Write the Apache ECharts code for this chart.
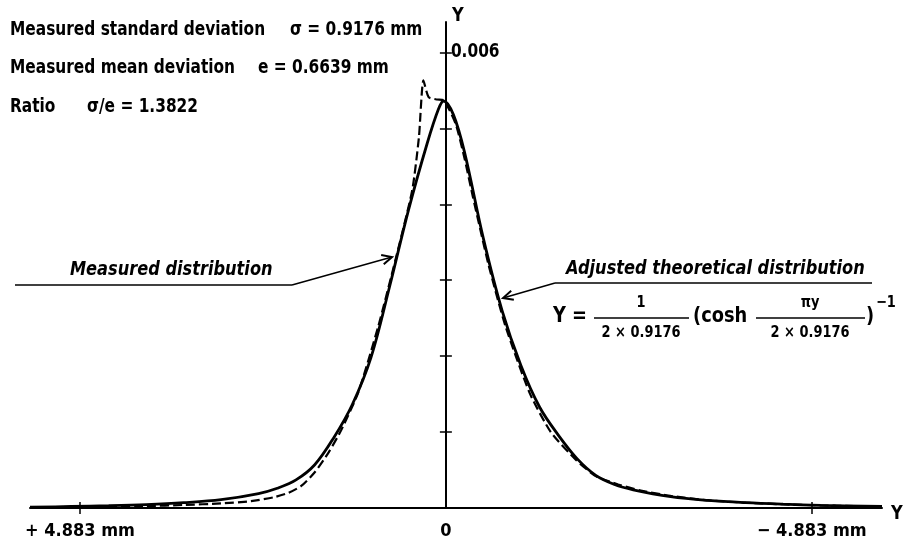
<!DOCTYPE html>
<html>
<head>
<meta charset="utf-8">
<script src="https://cdn.jsdelivr.net/npm/echarts@6/dist/echarts.min.js"></script>
<style>
html, body { margin: 0; padding: 0; background: #fff; }
#main { width: 904px; height: 546px; }
</style>
</head>
<body>
<div id="main"></div>
<script>
'use strict';

// x in mm (left is positive), y in units of 0.001
var theoryX = [5.55, 5.0, 4.5, 4.0, 3.5, 3.0, 2.5, 2.25, 2.0, 1.75, 1.5, 1.25, 1.0, 0.75, 0.5, 0.25, 0.1, 0.03,
    -0.1, -0.25, -0.5, -0.75, -1.0, -1.25, -1.5, -1.75, -2.0, -2.25, -2.5, -3.0, -3.5, -4.0, -4.5, -5.0, -5.82];
var theoryY = [0.01, 0.02, 0.03, 0.045, 0.07, 0.11, 0.19, 0.26, 0.37, 0.57, 0.92, 1.36, 1.98, 2.92, 3.92, 4.80, 5.25, 5.36,
    5.18, 4.68, 3.55, 2.60, 1.88, 1.33, 0.96, 0.65, 0.43, 0.31, 0.24, 0.15, 0.10, 0.07, 0.05, 0.035, 0.02];

var measuredX = [5.55, 5.0, 4.5, 4.0, 3.5, 3.0, 2.6, 2.3, 2.1, 1.93, 1.75, 1.56, 1.40, 1.17, 0.90, 0.67, 0.45, 0.36, 0.30, 0.23, 0.12, 0.03,
    -0.13, -0.25, -0.36, -0.57, -0.80, -1.12, -1.40, -1.74, -2.0, -2.3, -2.6, -3.0, -3.5, -4.0, -4.6, -5.2, -5.82];
var measuredY = [0.005, 0.01, 0.015, 0.025, 0.04, 0.06, 0.09, 0.14, 0.20, 0.29, 0.47, 0.74, 1.02, 1.52, 2.40, 3.28, 4.18, 4.88, 5.63, 5.41, 5.38, 5.37,
    5.06, 4.60, 4.10, 3.20, 2.38, 1.51, 1.00, 0.63, 0.42, 0.31, 0.23, 0.16, 0.10, 0.07, 0.045, 0.03, 0.02];

var xLabelValues = [4.883, 0, -4.883];
var xTickValues = [4.883, -4.883];
var yTickValues = [1, 2, 3, 4, 5, 6];
var yLabelValue = 6;

var FONT = '"Liberation Sans Narrow", "DejaVu Sans Condensed", "Roboto", sans-serif';
var SQUEEZE = 0.9;

function pairs(xs, ys) {
    return xs.map(function (x, i) { return [x, ys[i]]; });
}

function txt(str, x, y, size, opts) {
    opts = opts || {};
    return {
        type: 'text',
        z: 100,
        x: x,
        y: y,
        scaleX: SQUEEZE,
        style: {
            text: str,
            x: 0,
            y: 0,
            fill: '#000',
            fontFamily: FONT,
            fontWeight: 'bold',
            fontStyle: opts.italic ? 'italic' : 'normal',
            fontSize: size,
            textAlign: opts.align || 'left',
            textVerticalAlign: 'middle'
        }
    };
}

function seg(x1, y1, x2, y2, w) {
    return {
        type: 'line',
        z: 100,
        shape: { x1: x1, y1: y1, x2: x2, y2: y2 },
        style: { stroke: '#000', lineWidth: w || 1.5 }
    };
}

// 开口箭头
function arrow(fx, fy, tx, ty) {
    var a = Math.atan2(ty - fy, tx - fx), L = 11, s = 0.45;
    return {
        type: 'polyline',
        z: 100,
        shape: { points: [
            [tx - L * Math.cos(a - s), ty - L * Math.sin(a - s)],
            [tx, ty],
            [tx - L * Math.cos(a + s), ty - L * Math.sin(a + s)]
        ] },
        style: { stroke: '#000', lineWidth: 2, fill: null }
    };
}

var tickStyle = { color: '#000', width: 1.5 };

var myChart = echarts.init(document.getElementById('main'), null, { renderer: 'canvas' });

var option = {
    backgroundColor: '#fff',
    animation: false,
    grid: { left: 30, right: 22, top: 22, bottom: 38, containLabel: false, outerBoundsMode: 'none' },
    xAxis: [{
        type: 'value',
        inverse: true,
        min: -5.82,
        max: 5.55,
        splitLine: { show: false },
        axisLine: { show: true, onZero: true, lineStyle: { color: '#000', width: 2 } },
        axisTick: { show: true, customValues: xTickValues, length: 6, lineStyle: tickStyle },
        axisLabel: {
            customValues: xLabelValues,
            margin: 14,
            color: '#000',
            fontFamily: FONT,
            fontWeight: 'bold',
            fontSize: 18,
            formatter: function (v) {
                if (v > 0) return '+ ' + v.toFixed(3) + ' mm';
                if (v < 0) return '\u2212 ' + (-v).toFixed(3) + ' mm';
                return '0';
            }
        }
    }, {
        type: 'value',
        inverse: true,
        position: 'top',
        min: -5.82,
        max: 5.55,
        splitLine: { show: false },
        axisLine: { show: false, onZero: true },
        axisTick: { show: true, customValues: xTickValues, length: 6, lineStyle: tickStyle },
        axisLabel: { show: false }
    }],
    yAxis: [{
        type: 'value',
        min: 0,
        max: 6.4,
        interval: 1,
        splitLine: { show: false },
        axisLine: { show: true, onZero: true, lineStyle: { color: '#000', width: 2 } },
        axisTick: { show: true, customValues: yTickValues, length: 6, lineStyle: tickStyle },
        axisLabel: { show: false }
    }, {
        type: 'value',
        position: 'right',
        min: 0,
        max: 6.4,
        interval: 1,
        splitLine: { show: false },
        axisLine: { show: false, onZero: true },
        axisTick: { show: true, customValues: yTickValues, length: 6, lineStyle: tickStyle },
        axisLabel: { show: false }
    }],
    series: [{
        name: 'Adjusted theoretical distribution',
        type: 'line',
        data: pairs(theoryX, theoryY),
        smooth: 0.35,
        showSymbol: false,
        lineStyle: { color: '#000', width: 2.8 }
    }, {
        name: 'Measured distribution',
        type: 'line',
        data: pairs(measuredX, measuredY),
        smooth: 0.2,
        showSymbol: false,
        lineStyle: { color: '#000', width: 2.2, type: [9, 4] }
    }]
};

myChart.setOption(option);

// 0.006 标签贴在纵轴右侧
var p6 = myChart.convertToPixel({ gridIndex: 0 }, [0, yLabelValue]);

myChart.setOption({
    graphic: [
        txt((yLabelValue / 1000).toFixed(3), p6[0] + 5, p6[1], 19),

        txt('Measured standard deviation', 10, 30, 19),
        txt('\u03c3 = 0.9176 mm', 290, 30, 19),
        txt('Measured mean deviation', 10, 68, 19),
        txt('e = 0.6639 mm', 258, 68, 19),
        txt('Ratio', 10, 107, 19),
        txt('\u03c3/e = 1.3822', 87, 107, 19),

        txt('Y', 452, 16, 20),
        txt('Y', 891, 514, 20),

        txt('Measured distribution', 70, 270, 20, { italic: true }),
        seg(15, 285, 292, 285, 1.5),
        seg(292, 285, 392, 257, 1.5),
        arrow(292, 285, 392, 257),

        txt('Adjusted theoretical distribution', 566, 269, 20, { italic: true }),
        seg(555, 283, 872, 283, 1.5),
        seg(555, 283, 503, 298, 1.5),
        arrow(555, 283, 503, 298),

        txt('Y =', 553, 316, 22),
        txt('1', 641, 303, 16, { align: 'center' }),
        seg(594, 318, 689, 318, 1.5),
        txt('2 \u00d7 0.9176', 641, 333, 16, { align: 'center' }),
        txt('(cosh', 693, 316, 22),
        txt('\u03c0y', 810, 303, 16, { align: 'center' }),
        seg(756, 318, 865, 318, 1.5),
        txt('2 \u00d7 0.9176', 810, 333, 16, { align: 'center' }),
        txt(')', 866, 316, 22),
        txt('\u22121', 876, 303, 16)
    ]
});
</script>
</body>
</html>
